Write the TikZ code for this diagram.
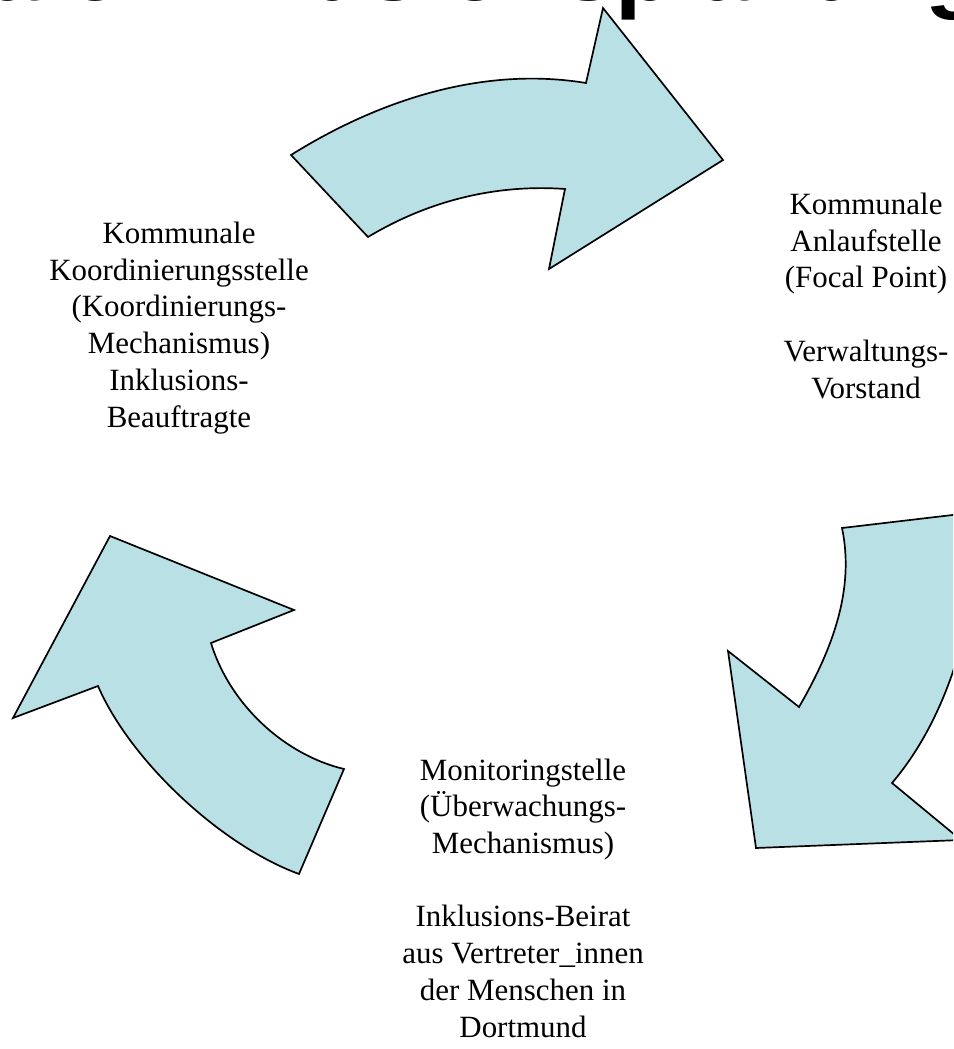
\documentclass[tikz,border=0pt]{standalone}
\usepackage{fontspec}
\setmainfont{Liberation Serif}
\newfontfamily\titlefont{Liberation Sans}
\definecolor{arrowblue}{RGB}{185,224,228}

\begin{document}
\begin{tikzpicture}[x=0.025cm,y=-0.025cm]
		\useasboundingbox (0,0) rectangle (953,1049);
		\clip (0,0) rectangle (953,1049);

		\node[anchor=base west,inner sep=0pt,font=\titlefont\bfseries\fontsize{67.3}{80}\selectfont] (title) at (-421,1) {Kommunale Inklusionsplanung};

		\begin{scope}[every path/.style={fill=arrowblue,draw=black,line width=1.2pt,line join=miter}]
		    \path (291,155) .. controls (379,100) and (483,66) .. (586,83) -- (603,8) -- (723,160) -- (549,269) -- (565,189) .. controls (495,184) and (428,201) .. (368,237) -- cycle;
		    \path (842,528) .. controls (855,590) and (832,650) .. (799,707) -- (728,651) -- (756,848) -- (961,840) -- (892,783) .. controls (950,715) and (979,610) .. (978,512) -- cycle;
		    \path (110,536) -- (294,610) -- (211,643) .. controls (230,705) and (285,755) .. (344,769) -- (299,874) .. controls (220,845) and (130,760) .. (98,686) -- (13,718) -- cycle;
		\end{scope}

		\begin{scope}[every node/.style={align=center,inner sep=0pt,anchor=base,font=\fontsize{22}{26.1}\selectfont}]
		    \node (koord) at (179,427) {Kommunale\\Koordinierungsstelle\\(Koordinierungs-\\Mechanismus)\\Inklusions-\\Beauftragte};
		    \node (focal) at (866,398) {Kommunale\\Anlaufstelle\\(Focal Point)\\[26.1pt]Verwaltungs-\\Vorstand};
		    \node (monitor) at (523,1037) {Monitoringstelle\\(Überwachungs-\\Mechanismus)\\[26.1pt]Inklusions-Beirat\\aus Vertreter\_innen\\der Menschen in\\Dortmund};
		\end{scope}
\end{tikzpicture}
\end{document}
